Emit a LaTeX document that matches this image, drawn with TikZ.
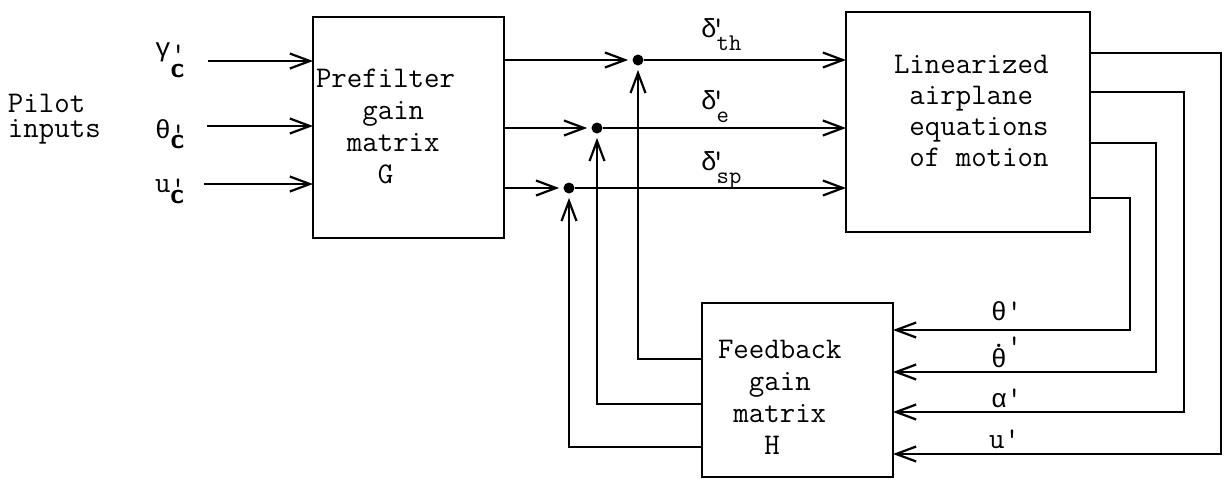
\documentclass[tikz,border=0pt]{standalone}
\usepackage{fontspec}
\usetikzlibrary{arrows.meta}
\newfontfamily\grk{Liberation Mono}[Scale=0.87]
\newcommand{\pq}{\textquotesingle}
\newcommand{\dlab}[2]{{\grk #1}\ooalign{\kern-3pt\pq\hfil\cr\raisebox{-6.5pt}{\fontsize{12}{12}\selectfont #2}\cr}}
\newcommand{\inlab}[3]{#1\ooalign{\hfil\raisebox{-#3}{\pq}\hfil\cr\raisebox{-#2}{\fontsize{14}{14}\selectfont\sffamily\bfseries c}\cr}}
\tikzset{
  blk/.style={draw, line width=1.1pt, inner sep=0pt, outer sep=0pt},
  lbl/.style={anchor=base west, inner sep=0pt, outer sep=0pt},
  junc/.style={circle, fill, inner sep=0pt, minimum size=5.5pt},
  arr/.style={line width=1.1pt, -{Straight Barb[length=10pt,width=7.5pt]}},
  ln/.style={line width=1.1pt}
}
\begin{document}
\begin{tikzpicture}[x=0.5pt,y=-0.5pt,font=\fontsize{15}{16}\selectfont\ttfamily]
\useasboundingbox (0,0) rectangle (1226,488);

% blocks
\node[blk, minimum width=95.5pt, minimum height=110.5pt] (pre) at (408.5,127.5) {};
\node[blk, minimum width=122pt, minimum height=110pt] (air) at (968,122) {};
\node[blk, minimum width=95.5pt, minimum height=87pt] (fb) at (797.5,390) {};

% block texts
\node[lbl] (pretxt) at (316,87) {\begin{tabular}[t]{@{}l@{}}Prefilter\\\hphantom{xxx}gain\\\hphantom{xx}matrix\\\hphantom{xxxx}G\end{tabular}};
\node[lbl] (airtxt) at (894,73) {\fontsize{15}{15.5}\selectfont\begin{tabular}[t]{@{}l@{}}Linearized\\\hphantom{x}airplane\\\hphantom{x}equations\\\hphantom{x}of motion\end{tabular}};
\node[lbl] (fbtxt) at (718,358) {\begin{tabular}[t]{@{}l@{}}Feedback\\\hphantom{xx}gain\\\hphantom{x}matrix\\\hphantom{xxx}H\end{tabular}};
\node[lbl] (pilot) at (8,112) {\fontsize{15}{12.5}\selectfont\begin{tabular}[t]{@{}l@{}}Pilot\\inputs\end{tabular}};

% input labels
\node[lbl] (lgam) at (155,56) {\inlab{{\grk γ}}{10.5pt}{3.5pt}};
\node[lbl] (lthe) at (155,138) {\inlab{{\grk θ}}{5pt}{2.5pt}};
\node[lbl] (lu) at (155,192) {\inlab{u}{5.5pt}{2.5pt}};

% input coordinates
\coordinate (in1) at (208,61);
\coordinate (in2) at (207,126);
\coordinate (in3) at (204,184);
\draw[arr] (in1) -- (pre.west |- in1);
\draw[arr] (in2) -- (pre.west |- in2);
\draw[arr] (in3) -- (pre.west |- in3);

% junctions
\node[junc] (jth) at (638,60) {};
\node[junc] (je) at (597,128) {};
\node[junc] (jsp) at (569,188) {};

\draw[arr, shorten >=2pt] (pre.east |- jth) -- (jth);
\draw[arr, shorten >=2pt] (pre.east |- je) -- (je);
\draw[arr, shorten >=2pt] (pre.east |- jsp) -- (jsp);

\draw[arr] (jth) -- (air.west |- jth);
\draw[arr] (je) -- (air.west |- je);
\draw[arr] (jsp) -- (air.west |- jsp);

% delta labels
\node[lbl] (dth) at (701,37) {\dlab{δ}{th}};
\node[lbl] (de) at (701,109) {\dlab{δ}{e}};
\node[lbl] (dsp) at (701,170) {\dlab{δ}{sp}};

% airplane outputs and feedback loops
\coordinate (ao1) at (1090,53);
\coordinate (ao2) at (1090,92);
\coordinate (ao3) at (1090,143);
\coordinate (ao4) at (1090,198);
\coordinate (c1) at (1221,454);
\coordinate (c2) at (1184,412);
\coordinate (c3) at (1156,372);
\coordinate (c4) at (1130,330);
\draw[arr] (ao4) -| (c4) -- (fb.east |- c4);
\draw[arr] (ao3) -| (c3) -- (fb.east |- c3);
\draw[arr] (ao2) -| (c2) -- (fb.east |- c2);
\draw[arr] (ao1) -| (c1) -- (fb.east |- c1);

% feedback labels
\node[lbl] (lth) at (991,320) {{\grk θ}\pq};
\node[lbl] (lthd) at (991,367) {\ooalign{{\grk θ}\cr\hfil\raisebox{10pt}{.}\hfil\cr}\raisebox{6pt}{\pq}};
\node[lbl] (lal) at (991,407) {{\grk α}\pq};
\node[lbl] (lup) at (989,448) {u\pq};

% feedback outputs
\coordinate (fo1) at (702,359);
\coordinate (fo2) at (702,404);
\coordinate (fo3) at (702,447);
\draw[arr, shorten >=2pt] (fo1) -| (jth);
\draw[arr, shorten >=2pt] (fo2) -| (je);
\draw[arr, shorten >=2pt] (fo3) -| (jsp);
\end{tikzpicture}
\end{document}
